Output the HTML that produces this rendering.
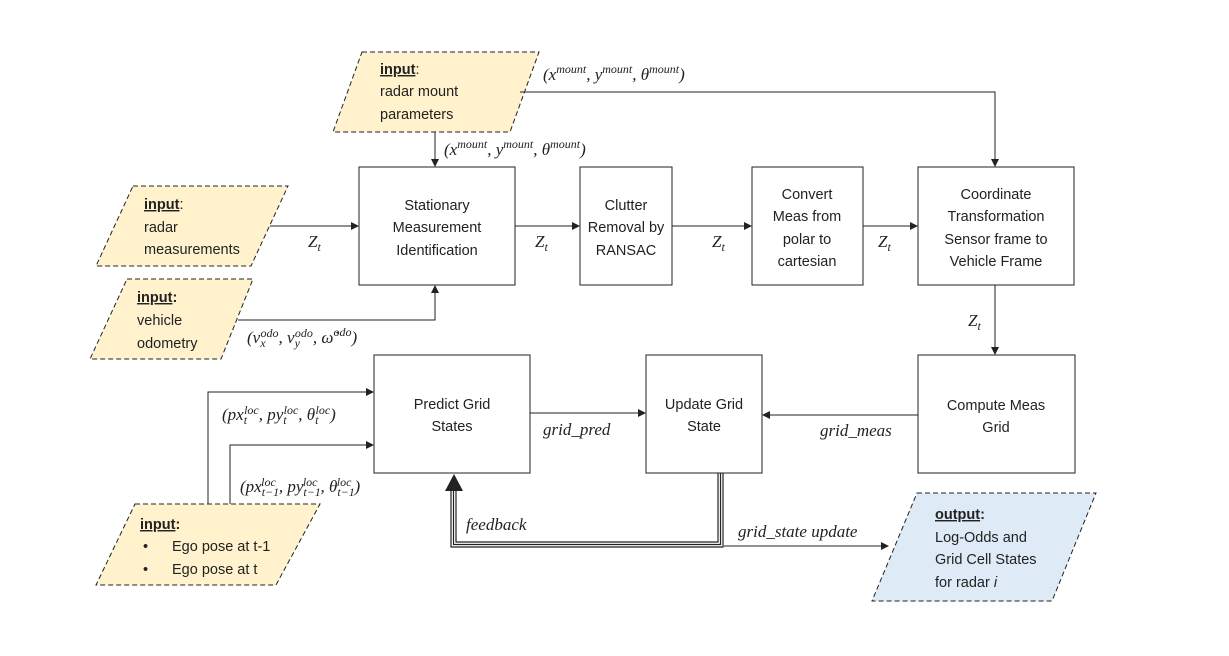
<!DOCTYPE html>
<html><head><meta charset="utf-8"><style>
body{margin:0;background:#fff}
svg{display:block}
.t{font-family:"Liberation Sans",sans-serif;font-size:14.5px;fill:#222}
.m{font-family:"Liberation Serif",serif;font-style:italic;font-size:17px;fill:#222}
.s{font-size:12px}
</style></head><body>
<svg width="1229" height="656" viewBox="0 0 1229 656" xmlns="http://www.w3.org/2000/svg">
<defs><marker id="a" markerWidth="8" markerHeight="8" refX="7" refY="4" orient="auto" markerUnits="userSpaceOnUse"><path d="M0,0 L8,4 L0,8 z" fill="#222"/></marker></defs>
<g stroke="#222" stroke-dasharray="5,3" stroke-width="1">
<polygon points="362,52 539,52 510,132 333,132" fill="#FFF2CC"/>
<polygon points="133,186 288,186 251,266 96,266" fill="#FFF2CC"/>
<polygon points="127,279 253,279 221,359 90,359" fill="#FFF2CC"/>
<polygon points="135,504 320,504 276,585 96,585" fill="#FFF2CC"/>
<polygon points="917,493 1096,493 1052,601 872,601" fill="#DEEBF7"/>
</g>
<g fill="#fff" stroke="#222" stroke-width="1">
<rect x="359" y="167" width="156" height="118"/>
<rect x="580" y="167" width="92" height="118"/>
<rect x="752" y="167" width="111" height="118"/>
<rect x="918" y="167" width="156" height="118"/>
<rect x="374" y="355" width="156" height="118"/>
<rect x="646" y="355" width="116" height="118"/>
<rect x="918" y="355" width="157" height="118"/>
</g>
<g stroke="#222" stroke-width="1" fill="none" marker-end="url(#a)">
<path d="M520,92 H995 V166"/>
<path d="M435,132 V166"/>
<path d="M270,226 H358"/>
<path d="M515,226 H579"/>
<path d="M672,226 H751"/>
<path d="M863,226 H917"/>
<path d="M238,320 H435 V286"/>
<path d="M995,285 V354"/>
<path d="M918,415 H763"/>
<path d="M530,413 H645"/>
<path d="M208,504 V392 H373"/>
<path d="M230,504 V445 H373"/>
<path d="M724,546 H888"/>
</g>
<g stroke="#222" fill="none" stroke-width="1.2">
<path d="M718,473 V542 H456 V488"/>
<path d="M720.5,473 V544.5 H453.5 V488"/>
<path d="M723,473 V547 H451 V488"/>
</g>
<path d="M445,491 L454,474 L463,491 z" fill="#222"/>
<g class="t">
<text x="380" y="74"><tspan font-weight="bold" text-decoration="underline">input</tspan>:</text>
<text x="380" y="96">radar mount</text>
<text x="380" y="119">parameters</text>
<text x="144" y="209"><tspan font-weight="bold" text-decoration="underline">input</tspan>:</text>
<text x="144" y="232">radar</text>
<text x="144" y="254">measurements</text>
<text x="137" y="302" font-weight="bold"><tspan text-decoration="underline">input</tspan>:</text>
<text x="137" y="325">vehicle</text>
<text x="137" y="348">odometry</text>
<text x="140" y="529" font-weight="bold"><tspan text-decoration="underline">input</tspan>:</text>
<text x="143" y="551">•</text><text x="172" y="551">Ego pose at t-1</text>
<text x="143" y="574">•</text><text x="172" y="574">Ego pose at t</text>
<text x="935" y="519" font-weight="bold"><tspan text-decoration="underline">output</tspan>:</text>
<text x="935" y="542">Log-Odds and</text>
<text x="935" y="564">Grid Cell States</text>
<text x="935" y="587">for radar <tspan font-style="italic">i</tspan></text>
</g>
<g class="t" text-anchor="middle">
<text x="437" y="210">Stationary</text><text x="437" y="232">Measurement</text><text x="437" y="255">Identification</text>
<text x="626" y="210">Clutter</text><text x="626" y="232">Removal by</text><text x="626" y="255">RANSAC</text>
<text x="807" y="199">Convert</text><text x="807" y="221">Meas from</text><text x="807" y="244">polar to</text><text x="807" y="266">cartesian</text>
<text x="996" y="199">Coordinate</text><text x="996" y="221">Transformation</text><text x="996" y="244">Sensor frame to</text><text x="996" y="266">Vehicle Frame</text>
<text x="452" y="409">Predict Grid</text><text x="452" y="431">States</text>
<text x="704" y="409">Update Grid</text><text x="704" y="431">State</text>
<text x="996" y="410">Compute Meas</text><text x="996" y="432">Grid</text>
</g>
<g class="m">
<text x="543" y="80">(x<tspan class="s" dy="-7">mount</tspan><tspan dy="7">, y</tspan><tspan class="s" dy="-7">mount</tspan><tspan dy="7">, θ</tspan><tspan class="s" dy="-7">mount</tspan><tspan dy="7">)</tspan></text>
<text x="444" y="155">(x<tspan class="s" dy="-7">mount</tspan><tspan dy="7">, y</tspan><tspan class="s" dy="-7">mount</tspan><tspan dy="7">, θ</tspan><tspan class="s" dy="-7">mount</tspan><tspan dy="7">)</tspan></text>
<text x="308" y="247">Z<tspan class="s" dy="4">t</tspan></text>
<text x="535" y="247">Z<tspan class="s" dy="4">t</tspan></text>
<text x="712" y="247">Z<tspan class="s" dy="4">t</tspan></text>
<text x="878" y="247">Z<tspan class="s" dy="4">t</tspan></text>
<text x="968" y="326">Z<tspan class="s" dy="4">t</tspan></text>
<text x="247" y="343">(v<tspan class="s" dy="4">x</tspan><tspan class="s" dx="-5" dy="-10">odo</tspan><tspan dy="6">, v</tspan><tspan class="s" dy="4">y</tspan><tspan class="s" dx="-5" dy="-10">odo</tspan><tspan dy="6">, ω̇</tspan><tspan class="s" dy="-7">odo</tspan><tspan dy="7">)</tspan></text>
<text x="222" y="420">(px<tspan class="s" dy="4">t</tspan><tspan class="s" dx="-3" dy="-10">loc</tspan><tspan dy="6">, py</tspan><tspan class="s" dy="4">t</tspan><tspan class="s" dx="-3" dy="-10">loc</tspan><tspan dy="6">, θ</tspan><tspan class="s" dy="4">t</tspan><tspan class="s" dx="-3" dy="-10">loc</tspan><tspan dy="6">)</tspan></text>
<text x="240" y="492">(px<tspan class="s" dy="4">t−1</tspan><tspan class="s" dx="-18" dy="-10">loc</tspan><tspan dy="6" dx="3">, py</tspan><tspan class="s" dy="4">t−1</tspan><tspan class="s" dx="-18" dy="-10">loc</tspan><tspan dy="6" dx="3">, θ</tspan><tspan class="s" dy="4">t−1</tspan><tspan class="s" dx="-18" dy="-10">loc</tspan><tspan dy="6" dx="3">)</tspan></text>
<text x="543" y="435">grid_pred</text>
<text x="820" y="436">grid_meas</text>
<text x="466" y="530">feedback</text>
<text x="738" y="537">grid_state update</text>
</g>
</svg>
</body></html>
